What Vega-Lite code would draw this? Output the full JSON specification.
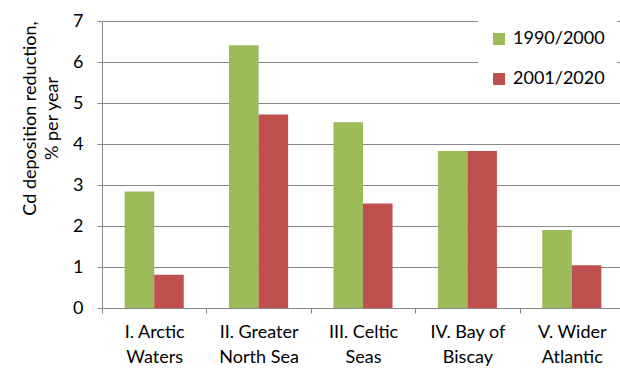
{
  "$schema": "https://vega.github.io/schema/vega-lite/v6.json",
  "width": 522,
  "height": 287,
  "autosize": {"type": "none"},
  "padding": {"left": 102, "top": 21, "right": 0, "bottom": 61},
  "config": {
    "view": {"stroke": null},
    "font": "Lato",
    "axis": {"labelFont": "Lato", "titleFont": "Lato", "labelColor": "#000", "titleColor": "#000"}
  },
  "data": {
    "values": [
      {"region": "I. Arctic|Waters", "period": "1990/2000", "value": 2.84},
      {"region": "I. Arctic|Waters", "period": "2001/2020", "value": 0.81},
      {"region": "II. Greater|North Sea", "period": "1990/2000", "value": 6.41},
      {"region": "II. Greater|North Sea", "period": "2001/2020", "value": 4.72},
      {"region": "III. Celtic|Seas", "period": "1990/2000", "value": 4.53},
      {"region": "III. Celtic|Seas", "period": "2001/2020", "value": 2.55},
      {"region": "IV. Bay of|Biscay", "period": "1990/2000", "value": 3.83},
      {"region": "IV. Bay of|Biscay", "period": "2001/2020", "value": 3.83},
      {"region": "V. Wider|Atlantic", "period": "1990/2000", "value": 1.9},
      {"region": "V. Wider|Atlantic", "period": "2001/2020", "value": 1.04}
    ]
  },
  "mark": {"type": "bar"},
  "encoding": {
    "x": {
      "field": "region",
      "type": "nominal",
      "sort": null,
      "scale": {"paddingInner": 0, "paddingOuter": 0},
      "axis": {
        "title": null,
        "labelAngle": 0,
        "labelExpr": "split(datum.label, '|')",
        "labelFontSize": 18,
        "labelLineHeight": 25,
        "labelPadding": 10,
        "tickBand": "extent",
        "tickSize": 5,
        "tickColor": "#888",
        "domainColor": "#888",
        "grid": false
      }
    },
    "xOffset": {
      "field": "period",
      "type": "nominal",
      "scale": {"paddingInner": 0, "paddingOuter": 0.767}
    },
    "y": {
      "field": "value",
      "type": "quantitative",
      "scale": {"domain": [0, 7]},
      "axis": {
        "title": ["Cd deposition reduction,", "% per year"],
        "titleFontSize": 18,
        "titleFontWeight": "normal",
        "titleLineHeight": 22,
        "titleX": -72,
        "titleY": 97,
        "titleAlign": "center",
        "titleBaseline": "middle",
        "values": [0, 1, 2, 3, 4, 5, 6, 7],
        "labelFontSize": 18,
        "labelPadding": 14,
        "tickSize": 5,
        "tickColor": "#888",
        "domainColor": "#888",
        "gridColor": "#888"
      }
    },
    "color": {
      "field": "period",
      "type": "nominal",
      "scale": {"domain": ["1990/2000", "2001/2020"], "range": ["#9BBB59", "#C0504D"]},
      "legend": {
        "title": null,
        "orient": "none",
        "legendX": 376,
        "legendY": -3,
        "fillColor": "white",
        "padding": 12,
        "symbolType": "square",
        "symbolSize": 144,
        "symbolStrokeWidth": 0,
        "labelFontSize": 18,
        "labelColor": "#000",
        "labelOffset": 5,
        "rowPadding": 22
      }
    }
  }
}
